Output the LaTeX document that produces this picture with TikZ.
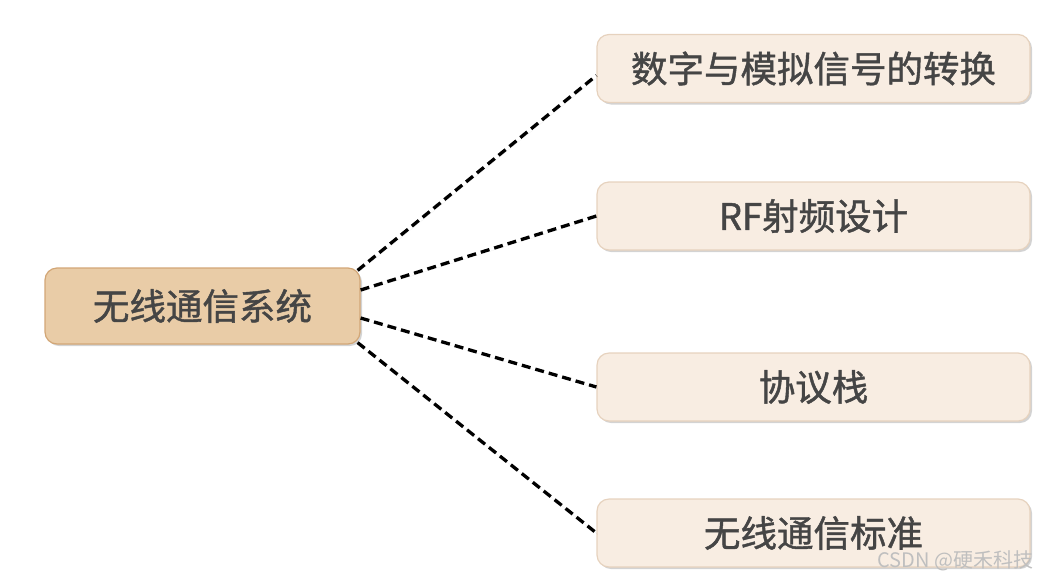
\documentclass[tikz,border=0pt]{standalone}
\usepackage{fontspec}
\setmainfont{Noto Sans CJK SC}
\newfontfamily\cjkmid{Noto Sans CJK SC}[FakeBold=1.2]
\usetikzlibrary{shapes.geometric, arrows, positioning, shadows, calc}

\definecolor{rootfill}{HTML}{E9CCA7}
\definecolor{rootdraw}{HTML}{D2A676}
\definecolor{leaffill}{HTML}{F8EDE2}
\definecolor{leafdraw}{HTML}{E6D2BE}
\definecolor{textgray}{HTML}{454545}

\begin{document}
\begin{tikzpicture}[
    x=1pt, y=-1pt,
    root/.style={rectangle, draw=rootdraw, line width=1.2pt, fill=rootfill, rounded corners=12pt, minimum width=315pt, minimum height=76pt, text=textgray, font=\cjkmid\fontsize{36.5}{40}\selectfont, drop shadow={shadow xshift=2pt, shadow yshift=-2pt, opacity=0.35}},
    leaf/.style={rectangle, draw=leafdraw, line width=1.2pt, fill=leaffill, rounded corners=12pt, minimum width=433pt, minimum height=68pt, text=textgray, font=\cjkmid\fontsize{36.5}{40}\selectfont, drop shadow={shadow xshift=2pt, shadow yshift=-2pt, opacity=0.35}},
    line/.style={draw, black, line width=3.3pt, dash pattern=on 9pt off 5pt, drop shadow={shadow xshift=1.5pt, shadow yshift=-1.5pt, opacity=0.3}}
]
\useasboundingbox (0,0) rectangle (1040,579);

\node [root] (system) at (202.5,306) {无线通信系统};
\node [leaf] (convert) at (813.5,68.5) {数字与模拟信号的转换};
\node [leaf] (rf) at (813.5,216) {RF射频设计};
\node [leaf] (stack) at (813.5,387) {协议栈};
\node [leaf] (standard) at (813.5,533) {无线通信标准};

% branches
\path [line] ($(system.north east)+(-3,3)$) -- ($(convert.west)+(0,7)$);
\path [line] ($(system.east)+(0,-16)$) -- (rf.west);
\path [line] ($(system.east)+(0,12)$) -- (stack.west);
\path [line] ($(system.south east)+(-3,-2)$) -- (standard.west);

\node [anchor=east, text=black!25, font=\fontsize{20}{22}\selectfont] (mark) at (1037,561) {CSDN @硬禾科技};

\end{tikzpicture}
\end{document}
